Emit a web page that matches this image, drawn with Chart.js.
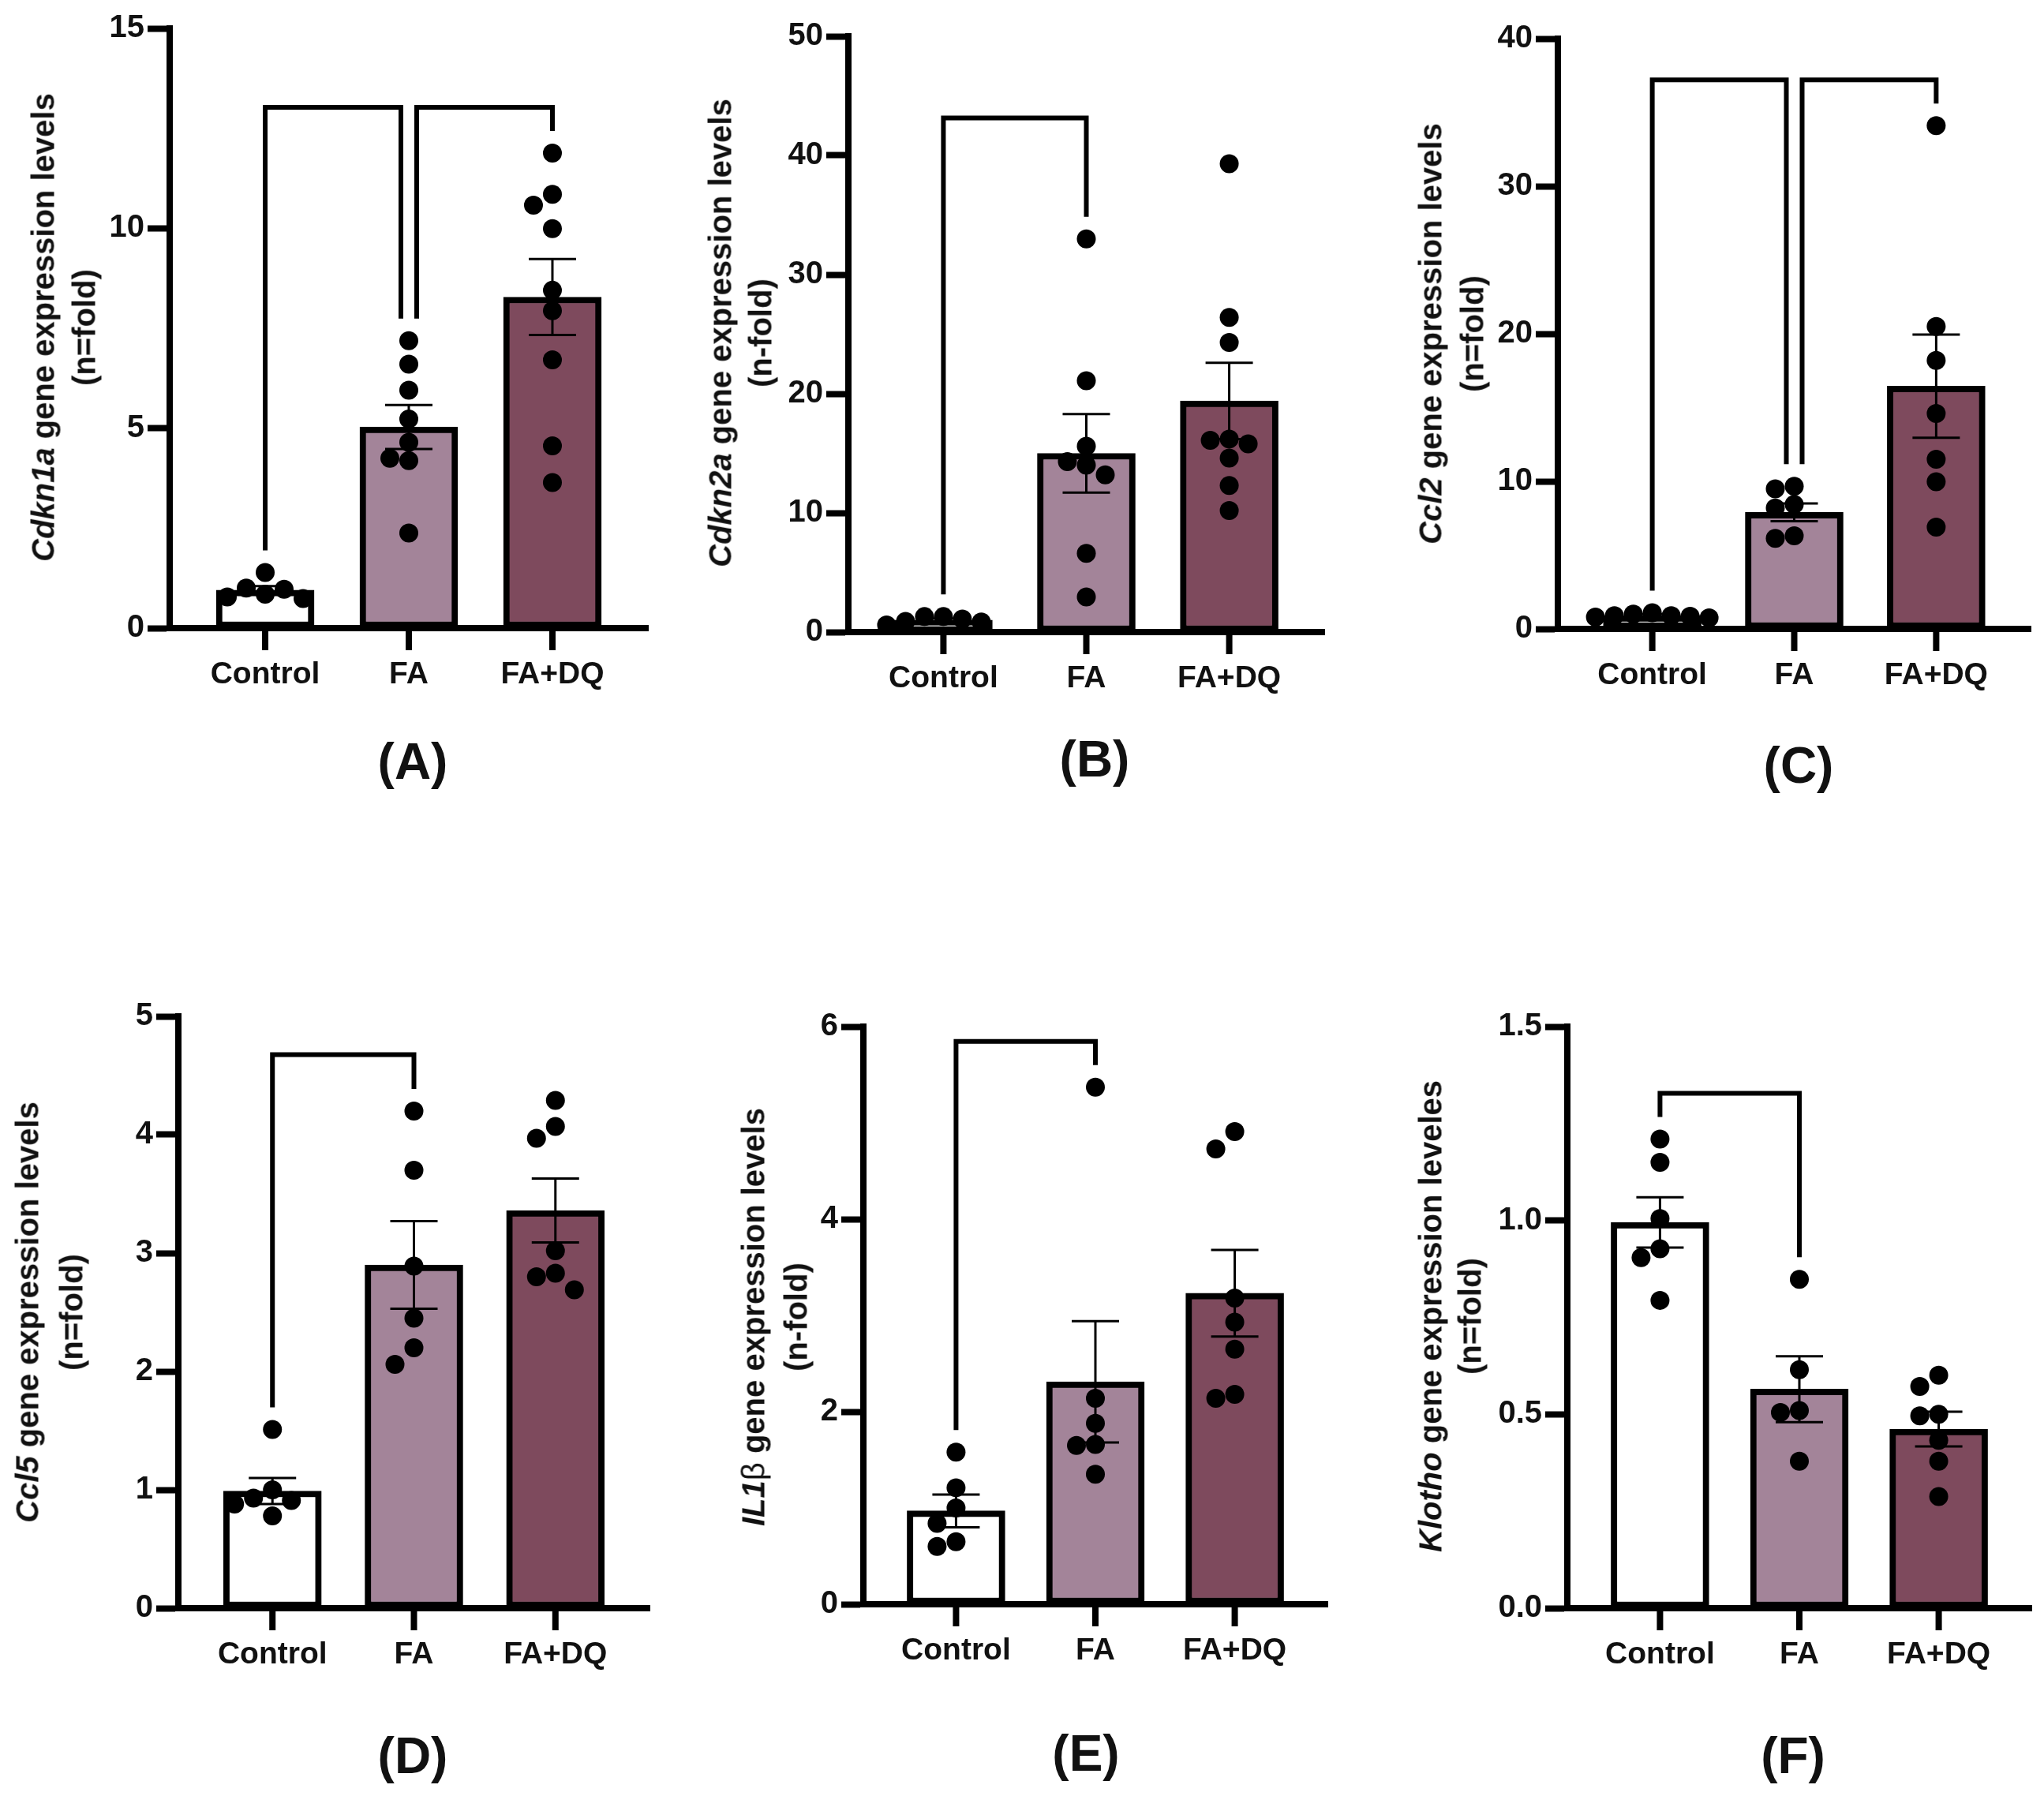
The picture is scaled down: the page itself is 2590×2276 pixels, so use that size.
<!DOCTYPE html>
<html lang="en">
<head>
<meta charset="UTF-8">
<title>Gene expression levels</title>
<script src="https://cdn.jsdelivr.net/npm/chart.js"></script>
<style>
  body { margin: 0; background: #fff; }
  #page {
    position: relative;
    width: 2590px;
    height: 2276px;
    overflow: hidden;
    background: #fff;
    font-family: "Liberation Sans", Arial, sans-serif;
    color: #111;
  }
  canvas { position: absolute; }
  .ytitle {
    position: absolute;
    white-space: nowrap;
    font-size: 40px;
    font-weight: bold;
    transform: translate(-50%, -50%) rotate(-90deg);
  }
  .letter {
    position: absolute;
    font-size: 64px;
    font-weight: bold;
    transform: translate(-50%, -50%);
  }
</style>
</head>
<body>
<div id="page"></div>
<script>
const categories = ['Control', 'FA', 'FA+DQ'];
const barColors = ['#ffffff', '#a38499', '#7e4a5d'];

// (A) Cdkn1a
const cdkn1aPoints = [
  [1.39, 1.0, 0.85, 0.97, 0.78, 0.74],
  [7.19, 6.6, 5.95, 5.23, 4.65, 4.19, 4.25, 2.38],
  [11.88, 10.85, 10.58, 9.99, 8.45, 7.94, 6.71, 4.56, 3.64]
];
const cdkn1aMeans = [0.95, 5.03, 8.28];
const cdkn1aSems = [0.1, 0.55, 0.95];

// (B) Cdkn2a
const cdkn2aPoints = [
  [0.6, 1.3, 0.9, 1.3, 0.85, 1.1],
  [33.0, 21.1, 15.6, 14.0, 14.3, 13.2, 6.6, 2.95],
  [39.3, 26.4, 24.3, 15.8, 16.1, 16.2, 14.6, 12.3, 10.2]
];
const cdkn2aMeans = [1.0, 15.0, 19.4];
const cdkn2aSems = [0.15, 3.3, 3.2];

// (C) Ccl2
const ccl2Points = [
  [0.8, 1.1, 0.9, 1.0, 0.85, 0.9, 0.75],
  [8.43, 9.49, 9.66, 8.19, 6.14, 6.31],
  [34.1, 20.5, 18.2, 14.6, 11.5, 9.97, 6.9]
];
const ccl2Means = [0.9, 7.9, 16.45];
const ccl2Sems = [0.1, 0.6, 3.5];

// (D) Ccl5
const ccl5Points = [
  [1.51, 1.0, 0.93, 0.88, 0.91, 0.78],
  [4.2, 3.7, 2.89, 2.45, 2.2, 2.06],
  [4.29, 4.07, 3.97, 3.02, 2.83, 2.8, 2.69]
];
const ccl5Means = [0.99, 2.9, 3.36];
const ccl5Sems = [0.11, 0.37, 0.27];

// (E) IL1b
const il1bPoints = [
  [1.58, 1.21, 1.0, 0.84, 0.65, 0.6],
  [5.37, 2.14, 1.88, 1.66, 1.65, 1.35],
  [4.91, 4.73, 3.18, 2.93, 2.65, 2.14, 2.18]
];
const il1bMeans = [0.97, 2.31, 3.23];
const il1bSems = [0.17, 0.63, 0.45];

// (F) Klotho
const klothoPoints = [
  [1.21, 1.15, 1.005, 0.927, 0.904, 0.794],
  [0.848, 0.615, 0.51, 0.505, 0.379],
  [0.601, 0.572, 0.5, 0.496, 0.433, 0.379, 0.288]
];
const klothoMeans = [0.995, 0.565, 0.462];
const klothoSems = [0.065, 0.085, 0.045];

const yMaxes = [15, 50, 40, 5, 6, 1.5];
const ySteps = [5, 10, 10, 1, 2, 0.5];
const comparisons = [
  [[0, 1], [1, 2]],
  [[0, 1]],
  [[0, 1], [1, 2]],
  [[0, 1]],
  [[0, 1]],
  [[0, 1]]
];

const titles = [
  ['<i>Cdkn1a</i> gene expression levels', '(n=fold)'],
  ['<i>Cdkn2a</i> gene expression levels', '(n-fold)'],
  ['<i>Ccl2</i> gene expression levels', '(n=fold)'],
  ['<i>Ccl5</i> gene expression levels', '(n=fold)'],
  ['<i>IL1</i><span style="font-weight:normal">\u03b2</span> gene expression levels', '(n-fold)'],
  ['<i>Klotho</i> gene expression leveles', '(n=fold)']
];
const letters = ['(A)', '(B)', '(C)', '(D)', '(E)', '(F)'];

// page layout: plot area [left, top, right, bottom], title centres, letter centre
const layout = [
  { area: [215, 36, 821, 796], title: [55, 107, 415], letter: [523, 965] },
  { area: [1075, 46, 1678, 801], title: [913, 964, 422], letter: [1387, 962] },
  { area: [1974, 49, 2573, 797], title: [1813, 1866, 423], letter: [2279, 970] },
  { area: [226, 1288, 823, 2038], title: [35, 91, 1663], letter: [523, 2225] },
  { area: [1094, 1301, 1682, 2033], title: [955, 1009, 1669], letter: [1376, 2222] },
  { area: [1986, 1301, 2574, 2038], title: [1813, 1863, 1668], letter: [2272, 2225] }
];

const X_MIN = -0.665, X_MAX = 2.665;
const DOT = 12;
const FONT = '"Liberation Sans", Arial, sans-serif';

// simple beeswarm: spread points that would overlap sideways
function swarm(vals, pxPerUnit) {
  const dia = 2 * DOT - 1, step = 2 * DOT;
  const order = vals.map((v, i) => i).sort((a, b) => vals[b] - vals[a]);
  const placed = [];
  const off = new Array(vals.length).fill(0);
  for (const i of order) {
    for (let k = 0; k < 40; k++) {
      const cand = k === 0 ? 0 : (k % 2 ? -1 : 1) * Math.ceil(k / 2) * step;
      const ok = placed.every(p => Math.hypot(p.dx - cand, (p.v - vals[i]) * pxPerUnit) >= dia);
      if (ok) {
        off[i] = cand;
        placed.push({ v: vals[i], dx: cand });
        break;
      }
    }
  }
  return off;
}

// tick marks under each group on the x axis
const groupTicks = {
  id: 'groupTicks',
  afterDraw(chart) {
    const { ctx, scales: { x }, chartArea } = chart;
    ctx.save();
    ctx.fillStyle = '#000';
    categories.forEach((c, i) => {
      const px = x.getPixelForValue(i);
      ctx.fillRect(px - 4, chartArea.bottom, 8, 28);
    });
    ctx.restore();
  }
};

const errorBars = {
  id: 'errorBars',
  afterDatasetsDraw(chart, args, opts) {
    const { ctx, scales: { x, y } } = chart;
    ctx.save();
    ctx.strokeStyle = '#000';
    ctx.lineWidth = 3;
    opts.means.forEach((m, i) => {
      const cx = x.getPixelForValue(i);
      const top = y.getPixelForValue(m + opts.sems[i]);
      const bot = y.getPixelForValue(m - opts.sems[i]);
      ctx.beginPath();
      ctx.moveTo(cx, top); ctx.lineTo(cx, bot);
      ctx.moveTo(cx - 30, top); ctx.lineTo(cx + 30, top);
      ctx.moveTo(cx - 30, bot); ctx.lineTo(cx + 30, bot);
      ctx.stroke();
    });
    ctx.restore();
  }
};

const brackets = {
  id: 'brackets',
  afterDatasetsDraw(chart, args, opts) {
    const { ctx, scales: { x, y } } = chart;
    const legEnd = opts.points.map((pts, i) =>
      y.getPixelForValue(Math.max(...pts, opts.means[i] + opts.sems[i])) - 28);
    const allMax = Math.max(...opts.points.flat());
    const top = y.getPixelForValue(allMax) - 58;
    const uses = {};
    opts.pairs.forEach(([a, b]) => { uses[a] = (uses[a] || 0) + 1; uses[b] = (uses[b] || 0) + 1; });
    ctx.save();
    ctx.strokeStyle = '#000';
    ctx.lineWidth = 6;
    ctx.lineJoin = 'miter';
    opts.pairs.forEach(([a, b]) => {
      const xa = x.getPixelForValue(a) + (uses[a] > 1 ? 10 : 0);
      const xb = x.getPixelForValue(b) - (uses[b] > 1 ? 10 : 0);
      ctx.beginPath();
      ctx.moveTo(xa, legEnd[a]);
      ctx.lineTo(xa, top);
      ctx.lineTo(xb, top);
      ctx.lineTo(xb, legEnd[b]);
      ctx.stroke();
    });
    ctx.restore();
  }
};

const allPoints = [cdkn1aPoints, cdkn2aPoints, ccl2Points, ccl5Points, il1bPoints, klothoPoints];
const allMeans = [cdkn1aMeans, cdkn2aMeans, ccl2Means, ccl5Means, il1bMeans, klothoMeans];
const allSems = [cdkn1aSems, cdkn2aSems, ccl2Sems, ccl5Sems, il1bSems, klothoSems];

const page = document.getElementById('page');

function makePanel(k) {
  const [L, T, R, B] = layout[k].area;
  const points = allPoints[k], means = allMeans[k], sems = allSems[k];
  const yMax = yMaxes[k];

  const canvas = document.createElement('canvas');
  const cw = R - L + 216, ch = B - T + 150;
  canvas.width = cw;
  canvas.height = ch;
  canvas.style.left = (L - 200) + 'px';
  canvas.style.top = (T - 40) + 'px';
  canvas.style.width = cw + 'px';
  canvas.style.height = ch + 'px';
  page.appendChild(canvas);

  const catPx = (R - L) / (X_MAX - X_MIN);
  const scatter = [];
  points.forEach((vals, g) => {
    const offs = swarm(vals, (B - T) / yMax);
    vals.forEach((v, i) => scatter.push({ x: g + offs[i] / catPx, y: v }));
  });

  const tickFont = { family: FONT, size: 40, weight: 'bold' };

  new Chart(canvas, {
    type: 'bar',
    data: {
      datasets: [
        {
          type: 'bar',
          data: means.map((m, i) => ({ x: i, y: m })),
          backgroundColor: barColors,
          borderColor: '#000',
          borderWidth: 8,
          borderSkipped: false,
          barThickness: 124,
          order: 2
        },
        {
          type: 'scatter',
          data: scatter,
          pointRadius: DOT,
          pointBackgroundColor: '#000',
          pointBorderWidth: 0,
          order: 1
        }
      ]
    },
    options: {
      responsive: false,
      animation: false,
      layout: { padding: { left: 50, top: 40, right: 16, bottom: 10 } },
      scales: {
        x: {
          type: 'linear',
          min: X_MIN,
          max: X_MAX,
          offset: false,
          afterBuildTicks: s => { s.ticks = categories.map((c, i) => ({ value: i })); },
          afterFit: s => { s.height = 100; },
          ticks: {
            callback: v => categories[v],
            font: { family: FONT, size: 39, weight: 'bold' },
            color: '#111',
            padding: 8,
            autoSkip: false,
            maxRotation: 0
          },
          grid: { display: false, drawTicks: true, tickLength: 28 },
          border: { display: true, width: 8, color: '#000' }
        },
        y: {
          min: 0,
          max: yMax,
          afterFit: s => { s.width = 150; },
          ticks: {
            stepSize: ySteps[k],
            callback: v => yMax < 2 ? v.toFixed(1) : v,
            font: tickFont,
            color: '#111',
            padding: 4
          },
          grid: { drawOnChartArea: false, drawTicks: true, tickLength: 28, tickWidth: 8, tickColor: '#000', color: '#000' },
          border: { display: true, width: 8, color: '#000' }
        }
      },
      plugins: {
        legend: { display: false },
        tooltip: { enabled: false },
        errorBars: { means, sems },
        brackets: { points, means, sems, pairs: comparisons[k] }
      }
    },
    plugins: [errorBars, brackets, groupTicks]
  });

  const [x1, x2, ty] = layout[k].title;
  [x1, x2].forEach((tx, j) => {
    const d = document.createElement('div');
    d.className = 'ytitle';
    d.style.left = tx + 'px';
    d.style.top = ty + 'px';
    d.innerHTML = titles[k][j];
    page.appendChild(d);
  });

  const lt = document.createElement('div');
  lt.className = 'letter';
  lt.style.left = layout[k].letter[0] + 'px';
  lt.style.top = layout[k].letter[1] + 'px';
  lt.textContent = letters[k];
  page.appendChild(lt);
}

for (let k = 0; k < 6; k++) makePanel(k);
</script>
</body>
</html>
